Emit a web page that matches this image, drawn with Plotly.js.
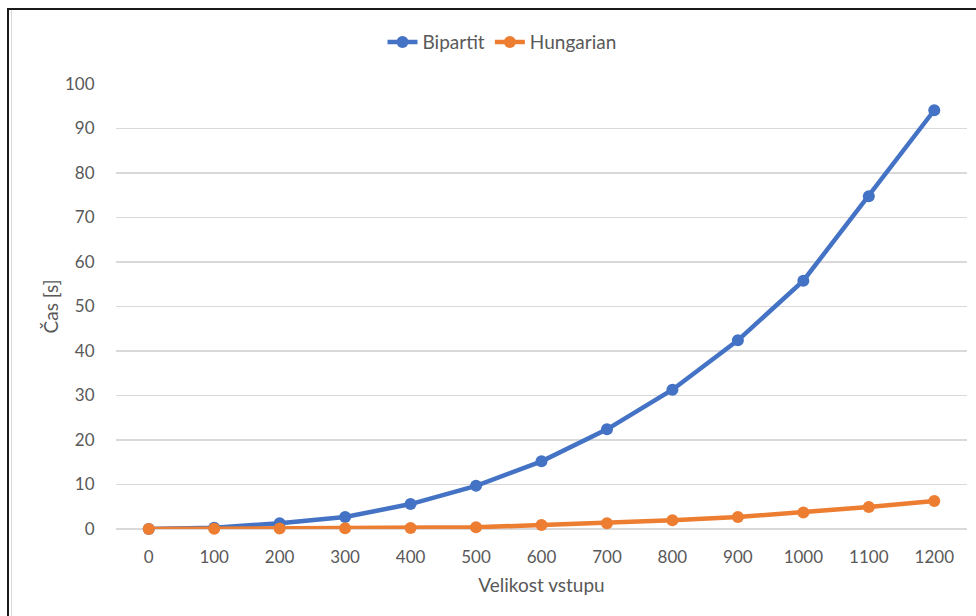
<!DOCTYPE html>
<html>
<head>
<meta charset="utf-8">
<script src="https://cdn.plot.ly/plotly-3.0.1.min.js"></script>
<style>
  html, body { margin: 0; padding: 0; background: #ffffff; }
  #wrap { position: relative; width: 976px; height: 616px; overflow: hidden; }
  #chart { position: absolute; left: 0; top: 0; width: 976px; height: 616px; }
  #frame { position: absolute; left: 7px; top: 8px; width: 980px; height: 620px;
           border-left: 2px solid #1a1a1a; border-top: 2px solid #1a1a1a; pointer-events: none; }
  #inner { position: absolute; left: 11px; top: 10px; width: 1px; height: 620px;
           background: #d9d9d9; pointer-events: none; }
</style>
</head>
<body>
<div id="wrap">
  <div id="chart"></div>
  <div id="frame"></div>
  <div id="inner"></div>
</div>
<script>
// Input sizes (categories on the x axis)
const sizes = [0, 100, 200, 300, 400, 500, 600, 700, 800, 900, 1000, 1100, 1200];
// Running time in seconds
const bipartit = [0, 0.3, 1.3, 2.7, 5.6, 9.7, 15.2, 22.4, 31.3, 42.4, 55.8, 74.8, 94.1];
const hungarian = [0, 0.05, 0.1, 0.15, 0.25, 0.4, 0.9, 1.3, 1.95, 2.7, 3.7, 4.95, 6.3];

const labels = sizes.map(String);
const font = "Lato, 'Open Sans', sans-serif";
const grey = '#595959';

const traces = [
  {
    x: labels, y: bipartit, name: 'Bipartit', type: 'scatter', mode: 'lines+markers',
    line: { color: '#4472C4', width: 4.5 },
    marker: { color: '#4472C4', size: 12 },
    cliponaxis: false
  },
  {
    x: labels, y: hungarian, name: 'Hungarian', type: 'scatter', mode: 'lines+markers',
    line: { color: '#ED7D31', width: 4.5 },
    marker: { color: '#ED7D31', size: 12 },
    cliponaxis: false
  }
];

const layout = {
  width: 976, height: 616,
  margin: { l: 116, r: 9, t: 84, b: 87 },
  paper_bgcolor: '#ffffff', plot_bgcolor: '#ffffff',
  font: { family: font, color: grey, size: 17 },
  showlegend: true,
  legend: {
    orientation: 'h', x: 0.4536, xanchor: 'center', y: 1.094, yanchor: 'middle',
    font: { family: font, size: 19, color: grey },
    itemwidth: 30, tracegroupgap: 0
  },
  xaxis: {
    type: 'category', range: [-0.5, 12.5],
    showgrid: false, zeroline: false, showline: false,
    ticks: 'outside', ticklen: 0, ticklabelstandoff: 13,
    tickfont: { family: font, size: 17, color: grey },
    title: { text: 'Velikost vstupu', font: { family: font, size: 19, color: grey }, standoff: 12 },
    fixedrange: true
  },
  yaxis: {
    range: [0, 100], dtick: 10, tick0: 0,
    showgrid: true, gridcolor: '#d9d9d9', gridwidth: 1.5,
    zeroline: true, zerolinecolor: '#d9d9d9', zerolinewidth: 1.5,
    showline: false,
    ticks: 'outside', ticklen: 0, ticklabelstandoff: 17,
    tickfont: { family: font, size: 17, color: grey },
    fixedrange: true
  },
  annotations: [
    {
      text: 'Čas [s]', xref: 'paper', yref: 'paper', x: -0.0764, y: 0.5,
      xanchor: 'center', yanchor: 'middle', textangle: -90, showarrow: false,
      font: { family: font, size: 19, color: grey }
    }
  ]
};

Plotly.newPlot('chart', traces, layout, { displayModeBar: false, staticPlot: true });
</script>
</body>
</html>
